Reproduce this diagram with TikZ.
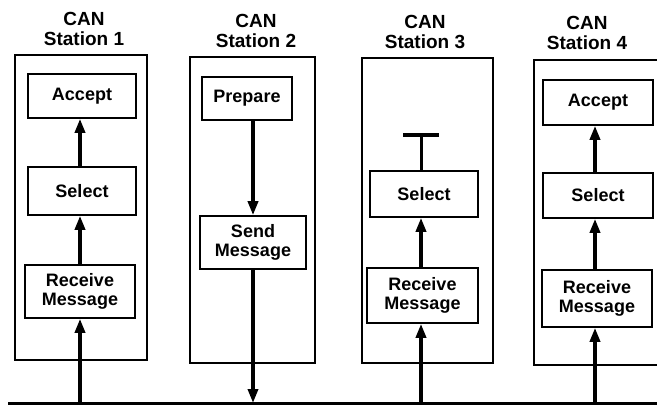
\documentclass[tikz,border=0pt]{standalone}
\usepackage{fontspec}
\setmainfont{Liberation Sans}
\usetikzlibrary{arrows.meta,positioning}

\begin{document}
\begin{tikzpicture}[x=1pt,y=-1pt]
\tikzstyle{station}=[draw=black,line width=1.7pt,inner sep=0pt]
\tikzstyle{block}=[draw=black,line width=1.6pt,inner sep=1pt,align=center,
font=\bfseries\fontsize{18}{19}\selectfont]
\tikzstyle{title}=[align=center,font=\bfseries\fontsize{19}{20}\selectfont]
\tikzstyle{flow}=[line width=3.4pt,-{Triangle[length=14pt,width=10pt]}]
\useasboundingbox (0,0) rectangle (657,413);
\clip (0,0) rectangle (657,413);

% stations
\node[station,minimum width=132pt,minimum height=305pt] at (81,207.5) (st1) {};
\node[station,minimum width=125pt,minimum height=306pt] at (252.5,210) (st2) {};
\node[station,minimum width=131pt,minimum height=305pt] at (427.5,210.5) (st3) {};
\node[station,minimum width=150pt,minimum height=305pt] at (609,212.5) (st4) {};

\node[title] at (84,29) (t1) {CAN\\Station 1};
\node[title] at (256,31) (t2) {CAN\\Station 2};
\node[title] at (425,32) (t3) {CAN\\Station 3};
\node[title] at (587,33) (t4) {CAN\\Station 4};

% blocks
\node[block,minimum width=108pt,minimum height=44pt] at (82,96) (acc1) {Accept};
\node[block,minimum width=108pt,minimum height=48pt] at (82,191) (sel1) {Select};
\node[block,minimum width=110pt,minimum height=53pt] at (80,291.5) (rec1) {Receive\\Message};

\node[block,minimum width=90pt,minimum height=43pt] at (247,98.5) (prep2) {Prepare};
\node[block,minimum width=106pt,minimum height=53pt] at (253,242.5) (send2) {Send\\Message};

\node[block,minimum width=108pt,minimum height=46pt] at (424,194) (sel3) {Select};
\node[block,minimum width=111pt,minimum height=55pt] at (422.5,295.5) (rec3) {Receive\\Message};
\coordinate (stop3) at (421,133);

\node[block,minimum width=110pt,minimum height=45pt] at (598,102.5) (acc4) {Accept};
\node[block,minimum width=110pt,minimum height=45pt] at (598,195.5) (sel4) {Select};
\node[block,minimum width=110pt,minimum height=57pt] at (597,298.5) (rec4) {Receive\\Message};

% bus
\coordinate (busL) at (8,403);
\coordinate (busR) at (657,403);
\coordinate (bus1) at (80,403);
\coordinate (bus2) at (253,403);
\coordinate (bus3) at (421,403);
\coordinate (bus4) at (595,403);
\draw[line width=3pt] (busL) -- (busR);

% flows
\draw[flow] (bus1) -- (rec1.south -| bus1);
\draw[flow] (rec1.north -| bus1) -- (sel1.south -| bus1);
\draw[flow] (sel1.north -| bus1) -- (acc1.south -| bus1);
\draw[flow] (prep2.south -| bus2) -- (send2.north -| bus2);
\draw[flow] (send2.south -| bus2) -- (bus2);
\draw[flow] (bus3) -- (rec3.south -| bus3);
\draw[flow] (rec3.north -| bus3) -- (sel3.south -| bus3);
\draw[line width=3pt,-{Bar[width=36pt,line width=4pt]}] (sel3.north -| bus3) -- (stop3);
\draw[flow] (bus4) -- (rec4.south -| bus4);
\draw[flow] (rec4.north -| bus4) -- (sel4.south -| bus4);
\draw[flow] (sel4.north -| bus4) -- (acc4.south -| bus4);
\end{tikzpicture}
\end{document}
